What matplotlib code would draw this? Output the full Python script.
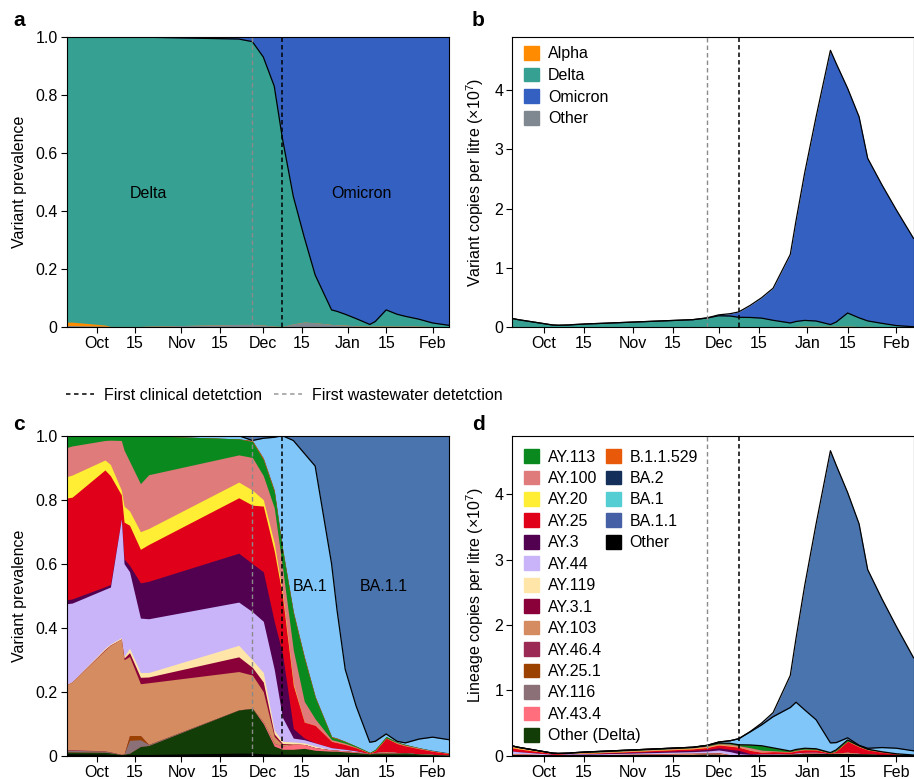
import numpy as np
import matplotlib
matplotlib.use('Agg')
import matplotlib.pyplot as plt
from matplotlib.patches import Patch
from matplotlib.lines import Line2D

plt.rcParams['font.family'] = ['Liberation Sans', 'DejaVu Sans']
plt.rcParams['font.size'] = 11.5
plt.rcParams['mathtext.fontset'] = 'custom'
plt.rcParams['mathtext.rm'] = 'Liberation Sans'
plt.rcParams['mathtext.default'] = 'regular'
plt.rcParams['lines.scale_dashes'] = False

# sampling dates -------------------------------------------------------------
dates = np.array(['2021-09-20', '2021-09-22', '2021-10-04', '2021-10-06', '2021-10-10',
                  '2021-10-11', '2021-10-13', '2021-10-17', '2021-10-20', '2021-11-22',
                  '2021-11-27', '2021-12-01', '2021-12-05', '2021-12-08', '2021-12-12',
                  '2021-12-16', '2021-12-20', '2021-12-26', '2021-12-28', '2021-12-31',
                  '2022-01-04', '2022-01-09', '2022-01-11', '2022-01-15', '2022-01-19',
                  '2022-01-22', '2022-01-27', '2022-02-01', '2022-02-07'], dtype='datetime64[D]')

# total viral load (x1e7 copies per litre)
total_load = [0.15, 0.13, 0.04, 0.035, 0.04, 0.045, 0.05, 0.06, 0.065, 0.13,
              0.16, 0.21, 0.23, 0.26, 0.37, 0.50, 0.66, 1.23, 1.80, 2.60,
              3.55, 4.67, 4.45, 4.03, 3.55, 2.85, 2.40, 1.98, 1.50]

# variant prevalence (panels a, b)
alpha = [0.012, 0.012, 0.004, 0, 0, 0, 0, 0, 0, 0,
         0, 0, 0, 0, 0, 0, 0, 0, 0, 0,
         0, 0, 0, 0, 0, 0, 0, 0, 0]
delta = [0.982, 0.982, 0.992, 0.997, 0.997, 0.997, 0.997, 0.997, 0.994, 0.982,
         0.973, 0.922, 0.826, 0.647, 0.438, 0.292, 0.164, 0.050, 0.046, 0.037,
         0.025, 0.006, 0.016, 0.055, 0.041, 0.032, 0.024, 0.012, 0.005]
omicron = [0, 0, 0, 0, 0, 0, 0, 0, 0.002, 0.008,
           0.017, 0.07, 0.17, 0.35, 0.55, 0.69, 0.82, 0.94, 0.945, 0.955,
           0.97, 0.99, 0.98, 0.94, 0.955, 0.962, 0.972, 0.985, 0.993]
other_var = [0.006, 0.006, 0.004, 0.003, 0.003, 0.003, 0.003, 0.003, 0.004, 0.01,
             0.01, 0.008, 0.004, 0.003, 0.012, 0.018, 0.016, 0.01, 0.009, 0.008,
             0.005, 0.004, 0.004, 0.005, 0.004, 0.006, 0.004, 0.003, 0.002]

# lineage prevalence (panels c, d)
ay113 = [0.037, 0.032, 0.015, 0.014, 0.015, 0.045, 0.08, 0.15, 0.122, 0.05,
         0.05, 0.05, 0.05, 0.055, 0.115, 0.135, 0.067, 0.008, 0.007, 0.005,
         0.003, 0.002, 0.004, 0.005, 0.002, 0.002, 0.001, 0, 0]
ay100 = [0.091, 0.091, 0.061, 0.076, 0.155, 0.175, 0.155, 0.15, 0.168, 0.085,
         0.102, 0.075, 0.11, 0.08, 0.105, 0.065, 0.02, 0.005, 0.005, 0.004,
         0.002, 0, 0, 0, 0.003, 0.002, 0.002, 0.001, 0]
ay20 = [0.067, 0.069, 0.031, 0.035, 0.015, 0.05, 0.045, 0.055, 0.05, 0.049,
        0.047, 0.02, 0.025, 0.01, 0.005, 0, 0, 0, 0, 0,
        0, 0, 0, 0, 0, 0, 0, 0, 0]
ay25 = [0.318, 0.318, 0.365, 0.34, 0.075, 0.115, 0.125, 0.105, 0.115, 0.173,
        0.183, 0.205, 0.22, 0.18, 0.135, 0.05, 0.055, 0.02, 0.018, 0.015,
        0.01, 0.002, 0.006, 0.042, 0.028, 0.022, 0.016, 0.01, 0.005]
ay3 = [0.012, 0.013, 0.008, 0.008, 0, 0.015, 0.02, 0.11, 0.117, 0.153,
       0.15, 0.155, 0.15, 0.2, 0.03, 0.005, 0, 0, 0, 0,
       0, 0, 0, 0, 0, 0, 0, 0, 0]
ay44 = [0.252, 0.245, 0.184, 0.178, 0.371, 0.29, 0.239, 0.17, 0.168, 0.135,
        0.151, 0.16, 0.19, 0.075, 0.012, 0.01, 0.01, 0.007, 0.006, 0.005,
        0.003, 0, 0, 0, 0, 0, 0, 0, 0]
ay119 = [0.001, 0.001, 0.004, 0.003, 0.004, 0.005, 0.014, 0.015, 0.014, 0.036,
         0.023, 0.03, 0.012, 0.007, 0.005, 0.005, 0.005, 0, 0, 0,
         0, 0, 0, 0, 0, 0, 0, 0, 0]
ay3_1 = [0, 0, 0.002, 0.001, 0, 0.005, 0.012, 0.02, 0.018, 0.046,
         0.024, 0.03, 0.008, 0.003, 0, 0, 0, 0, 0, 0,
         0, 0, 0, 0, 0, 0, 0, 0, 0]
ay103 = [0.203, 0.212, 0.315, 0.333, 0.361, 0.295, 0.247, 0.162, 0.193, 0.12,
         0.104, 0.095, 0.022, 0.005, 0.003, 0, 0, 0, 0, 0,
         0, 0, 0.002, 0.005, 0.002, 0, 0, 0, 0]
ay46_4 = [0.002, 0.002, 0.001, 0.001, 0, 0, 0, 0, 0, 0,
          0, 0, 0, 0, 0, 0, 0, 0, 0, 0,
          0, 0, 0, 0, 0, 0, 0, 0, 0]
ay25_1 = [0, 0, 0, 0, 0, 0, 0.015, 0.013, 0, 0,
          0, 0, 0, 0, 0, 0, 0, 0, 0, 0,
          0, 0, 0, 0, 0, 0, 0, 0, 0]
ay116 = [0.004, 0.004, 0.003, 0.002, 0, 0, 0.04, 0.021, 0.003, 0,
         0, 0, 0, 0, 0, 0, 0, 0, 0, 0,
         0, 0, 0, 0, 0, 0, 0, 0, 0]
ay43_4 = [0.001, 0.001, 0, 0, 0, 0, 0, 0, 0, 0,
          0, 0.005, 0.008, 0.01, 0.015, 0.012, 0.008, 0.004, 0.003, 0.003,
          0.002, 0, 0, 0, 0, 0, 0, 0, 0]
other_delta = [0.006, 0.006, 0.006, 0.005, 0.001, 0.002, 0.004, 0.025, 0.028, 0.135,
               0.14, 0.094, 0.025, 0.015, 0.015, 0.018, 0.012, 0.01, 0.01, 0.008,
               0.006, 0.003, 0.005, 0.004, 0.005, 0.006, 0.004, 0.002, 0.001]
b_1_1_529 = [0, 0, 0, 0, 0, 0, 0, 0, 0, 0,
             0.003, 0.005, 0.005, 0.005, 0.005, 0.005, 0.003, 0.002, 0.002, 0.001,
             0, 0, 0, 0, 0, 0, 0, 0, 0]
ba2 = [0, 0, 0, 0, 0, 0, 0, 0, 0, 0,
       0, 0, 0, 0, 0, 0, 0, 0, 0, 0,
       0, 0, 0, 0, 0, 0, 0, 0.002, 0.002]
ba1 = [0, 0, 0, 0, 0, 0, 0, 0, 0, 0.01,
       0, 0.062, 0.165, 0.35, 0.535, 0.635, 0.72, 0.54, 0.40, 0.225,
       0.125, 0.032, 0.025, 0.008, 0.002, 0.005, 0.027, 0.041, 0.041]
ba1_1 = [0, 0, 0, 0, 0, 0, 0, 0, 0, 0,
         0.015, 0.008, 0.005, 0, 0.015, 0.055, 0.095, 0.40, 0.545, 0.73,
         0.845, 0.958, 0.955, 0.932, 0.955, 0.96, 0.948, 0.942, 0.95]
other_lin = [0.006, 0.006, 0.005, 0.004, 0.003, 0.003, 0.004, 0.004, 0.004, 0.008,
             0.008, 0.006, 0.005, 0.005, 0.005, 0.005, 0.005, 0.004, 0.004, 0.004,
             0.004, 0.003, 0.003, 0.004, 0.003, 0.003, 0.002, 0.002, 0.001]

first_wastewater = np.datetime64('2021-11-27')
first_clinical = np.datetime64('2021-12-08')

tick_dates = np.array(['2021-10-01', '2021-10-15', '2021-11-01', '2021-11-15', '2021-12-01',
                       '2021-12-15', '2022-01-01', '2022-01-15', '2022-02-01'], dtype='datetime64[D]')
tick_labels = ['Oct', '15', 'Nov', '15', 'Dec', '15', 'Jan', '15', 'Feb']

# stacking order, bottom -> top
variant_layers = [other_var, alpha, delta, omicron]
variant_colors = ['#7f8891', '#ff8c00', '#36a192', '#3461c1']

lineage_names = ['Other', 'Other (Delta)', 'AY.43.4', 'AY.116', 'AY.25.1', 'AY.46.4', 'AY.103',
                 'AY.3.1', 'AY.119', 'AY.44', 'AY.3', 'AY.25', 'AY.20', 'AY.100', 'AY.113',
                 'B.1.1.529', 'BA.2', 'BA.1', 'BA.1.1']
lineage_layers = [other_lin, other_delta, ay43_4, ay116, ay25_1, ay46_4, ay103,
                  ay3_1, ay119, ay44, ay3, ay25, ay20, ay100, ay113,
                  b_1_1_529, ba2, ba1, ba1_1]
lineage_colors = ['#000000', '#123d06', '#ff6e7c', '#8b7077', '#9b4200', '#9b2b55', '#d48c60',
                  '#8a0038', '#ffe6a8', '#c9b4fa', '#520050', '#e0001a', '#ffee33', '#e07b7b',
                  '#0a8a1e', '#e85a0a', '#14305a', '#80c6f8', '#4a74ad']
legend_colors = dict(zip(lineage_names, lineage_colors))
legend_colors['BA.1'] = '#55ced3'
legend_colors['BA.1.1'] = '#4660a6'

total = np.array(total_load)


def draw_stack(ax, layers, colors, scale=1.0):
    # fill each cumulative band from zero, top layer first, so no seams show
    cum = np.cumsum(np.array(layers, dtype=float), axis=0) * scale
    for top, col in reversed(list(zip(cum, colors))):
        ax.fill_between(dates, 0, top, color=col, lw=0)
    return cum


def style_axes(ax):
    ax.set_xlim(np.datetime64('2021-09-20'), np.datetime64('2022-02-07'))
    ax.set_xticks(tick_dates)
    ax.set_xticklabels(tick_labels)
    ax.tick_params(direction='out', length=4, width=0.8, pad=2.5, color='black')
    for sp in ax.spines.values():
        sp.set_linewidth(0.8)
        sp.set_color('black')
    ax.axvline(first_wastewater, color='#8a8a8a', lw=1.0, dashes=(3.2, 2.2), zorder=5)
    ax.axvline(first_clinical, color='black', lw=1.1, dashes=(3.2, 2.2), zorder=5)


fig = plt.figure(figsize=(9.14, 7.79), dpi=100)

# a: variant prevalence ------------------------------------------------------
ax_a = fig.add_axes([0.0730, 0.5798, 0.4182, 0.3731])
cum_a = draw_stack(ax_a, variant_layers, variant_colors)
ax_a.plot(dates, cum_a[2], color='black', lw=0.9, zorder=4)
ax_a.set_ylim(0, 1)
ax_a.set_yticks([0, 0.2, 0.4, 0.6, 0.8, 1.0])
ax_a.set_yticklabels(['0', '0.2', '0.4', '0.6', '0.8', '1.0'])
ax_a.set_ylabel('Variant prevalence', labelpad=6)
ax_a.text(np.datetime64('2021-10-20'), 0.46, 'Delta', ha='center', va='center')
ax_a.text(np.datetime64('2022-01-06'), 0.46, 'Omicron', ha='center', va='center')
style_axes(ax_a)

# b: variant copies per litre ------------------------------------------------
ax_b = fig.add_axes([0.5605, 0.5798, 0.439, 0.3731])
cum_b = draw_stack(ax_b, variant_layers, variant_colors, scale=total)
ax_b.plot(dates, cum_b[2], color='black', lw=0.9, zorder=4)
ax_b.plot(dates, cum_b[3], color='black', lw=0.9, zorder=4)
ax_b.set_ylim(0, 4.9)
ax_b.set_yticks([0, 1, 2, 3, 4])
ax_b.set_ylabel('Variant copies per litre (×10$^{7}$)', labelpad=6)
style_axes(ax_b)
b_handles = [Patch(color=c) for c in ['#ff8c00', '#36a192', '#3461c1', '#7f8891']]
ax_b.legend(b_handles, ['Alpha', 'Delta', 'Omicron', 'Other'], loc='upper left',
            bbox_to_anchor=(0.029, 0.968), frameon=False, borderpad=0, borderaxespad=0,
            handlelength=0.95, handleheight=0.95, handletextpad=0.55, labelspacing=0.39)

# shared legend for the detection lines
det_handles = [Line2D([], [], color='black', lw=1.1, dashes=(3.2, 2.6)),
               Line2D([], [], color='#999999', lw=1.1, dashes=(3.2, 2.6))]
fig.legend(det_handles, ['First clinical detetction', 'First wastewater detetction'],
           loc='center left', bbox_to_anchor=(66 / 914, 1 - 395 / 779), ncol=2,
           frameon=False, borderpad=0, borderaxespad=0, handlelength=1.75,
           handletextpad=0.6, columnspacing=0.8)

# c: lineage prevalence ------------------------------------------------------
ax_c = fig.add_axes([0.0730, 0.0299, 0.4182, 0.4108])
cum_c = draw_stack(ax_c, lineage_layers, lineage_colors)
ax_c.plot(dates, cum_c[17], color='black', lw=0.9, zorder=4)
ax_c.set_ylim(0, 1)
ax_c.set_yticks([0, 0.2, 0.4, 0.6, 0.8, 1.0])
ax_c.set_yticklabels(['0', '0.2', '0.4', '0.6', '0.8', '1.0'])
ax_c.set_ylabel('Variant prevalence', labelpad=6)
ax_c.text(np.datetime64('2021-12-18'), 0.53, 'BA.1', ha='center', va='center')
ax_c.text(np.datetime64('2022-01-14'), 0.53, 'BA.1.1', ha='center', va='center')
style_axes(ax_c)

# d: lineage copies per litre ------------------------------------------------
ax_d = fig.add_axes([0.5605, 0.0299, 0.439, 0.4108])
cum_d = draw_stack(ax_d, lineage_layers, lineage_colors, scale=total)
for k in (0, 14, 17, 18):
    ax_d.plot(dates, cum_d[k], color='black', lw=0.9, zorder=4)
ax_d.set_ylim(0, 4.9)
ax_d.set_yticks([0, 1, 2, 3, 4])
ax_d.set_ylabel('Lineage copies per litre (×10$^{7}$)', labelpad=6)
style_axes(ax_d)

delta_names = ['AY.113', 'AY.100', 'AY.20', 'AY.25', 'AY.3', 'AY.44', 'AY.119', 'AY.3.1',
               'AY.103', 'AY.46.4', 'AY.25.1', 'AY.116', 'AY.43.4', 'Other (Delta)']
omicron_names = ['B.1.1.529', 'BA.2', 'BA.1', 'BA.1.1', 'Other']
leg_kw = dict(loc='upper left', frameon=False, borderpad=0, borderaxespad=0,
              handlelength=0.95, handleheight=0.95, handletextpad=0.55, labelspacing=0.38)
leg1 = ax_d.legend([Patch(color=legend_colors[n]) for n in delta_names], delta_names,
                   bbox_to_anchor=(0.029, 0.958), **leg_kw)
ax_d.add_artist(leg1)
ax_d.legend([Patch(color=legend_colors[n]) for n in omicron_names], omicron_names,
            bbox_to_anchor=(0.233, 0.958), **leg_kw)

# panel letters
for lbl, x, y in [('a', 13, 21), ('b', 472, 21), ('c', 13, 425), ('d', 472, 425)]:
    fig.text(x / 914, 1 - y / 779, lbl, fontsize=15, fontweight='bold', va='center', ha='left')

fig.savefig('out.png', dpi=100)
